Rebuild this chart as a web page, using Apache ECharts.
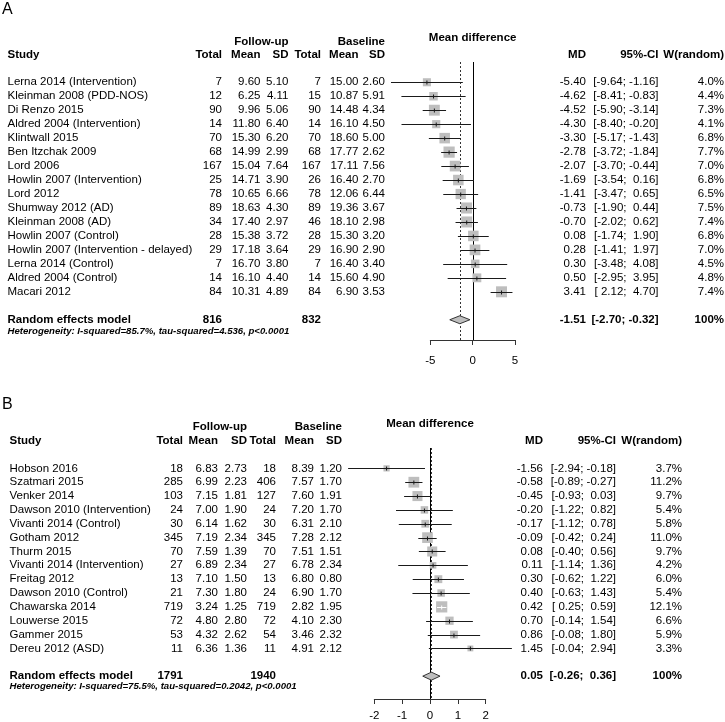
<!DOCTYPE html>
<html><head><meta charset="utf-8">
<script src="https://cdn.jsdelivr.net/npm/echarts@6/dist/echarts.min.js"></script>
<style>html,body{margin:0;padding:0;background:#fff}#c{width:725px;height:722px}</style>
</head><body><div id="c"></div>
<script>
// ================= Panel A data =================
const studiesA = ['Lerna 2014 (Intervention)','Kleinman 2008 (PDD-NOS)','Di Renzo 2015','Aldred 2004 (Intervention)','Klintwall 2015','Ben Itzchak 2009','Lord 2006','Howlin 2007 (Intervention)','Lord 2012','Shumway 2012 (AD)','Kleinman 2008 (AD)','Howlin 2007 (Control)','Howlin 2007 (Intervention - delayed)','Lerna 2014 (Control)','Aldred 2004 (Control)','Macari 2012'];
const fuTotalA = [7,12,90,14,70,68,167,25,78,89,34,28,29,7,14,84];
const fuMeanA  = [9.60,6.25,9.96,11.80,15.30,14.99,15.04,14.71,10.65,18.63,17.40,15.38,17.18,16.70,16.10,10.31];
const fuSdA    = [5.10,4.11,5.06,6.40,6.20,2.99,7.64,3.90,6.66,4.30,2.97,3.72,3.64,3.80,4.40,4.89];
const blTotalA = [7,15,90,14,70,68,167,26,78,89,46,28,29,7,14,84];
const blMeanA  = [15.00,10.87,14.48,16.10,18.60,17.77,17.11,16.40,12.06,19.36,18.10,15.30,16.90,16.40,15.60,6.90];
const blSdA    = [2.60,5.91,4.34,4.50,5.00,2.62,7.56,2.70,6.44,3.67,2.98,3.20,2.90,3.40,4.90,3.53];
const mdA      = [-5.40,-4.62,-4.52,-4.30,-3.30,-2.78,-2.07,-1.69,-1.41,-0.73,-0.70,0.08,0.28,0.30,0.50,3.41];
const loA      = [-9.64,-8.41,-5.90,-8.40,-5.17,-3.72,-3.70,-3.54,-3.47,-1.90,-2.02,-1.74,-1.41,-3.48,-2.95,2.12];
const hiA      = [-1.16,-0.83,-3.14,-0.20,-1.43,-1.84,-0.44,0.16,0.65,0.44,0.62,1.90,1.97,4.08,3.95,4.70];
const wA       = [4.0,4.4,7.3,4.1,6.8,7.7,7.0,6.8,6.5,7.5,7.4,6.8,7.0,4.5,4.8,7.4];
const sumTotalsA = [816, 832];
const sumEffA    = [-1.51, -2.70, -0.32];
const hetA = 'Heterogeneity: I-squared=85.7%, tau-squared=4.536, p<0.0001';
const ticksA = [-5, 0, 5];

// ================= Panel B data =================
const studiesB = ['Hobson 2016','Szatmari 2015','Venker 2014','Dawson 2010 (Intervention)','Vivanti 2014 (Control)','Gotham 2012','Thurm 2015','Vivanti 2014 (Intervention)','Freitag 2012','Dawson 2010 (Control)','Chawarska 2014','Louwerse 2015','Gammer 2015','Dereu 2012 (ASD)'];
const fuTotalB = [18,285,103,24,30,345,70,27,13,21,719,72,53,11];
const fuMeanB  = [6.83,6.99,7.15,7.00,6.14,7.19,7.59,6.89,7.10,7.30,3.24,4.80,4.32,6.36];
const fuSdB    = [2.73,2.23,1.81,1.90,1.62,2.34,1.39,2.34,1.50,1.80,1.25,2.80,2.62,1.36];
const blTotalB = [18,406,127,24,30,345,70,27,13,24,719,72,54,11];
const blMeanB  = [8.39,7.57,7.60,7.20,6.31,7.28,7.51,6.78,6.80,6.90,2.82,4.10,3.46,4.91];
const blSdB    = [1.20,1.70,1.91,1.70,2.10,2.12,1.51,2.34,0.80,1.70,1.95,2.30,2.32,2.12];
const mdB      = [-1.56,-0.58,-0.45,-0.20,-0.17,-0.09,0.08,0.11,0.30,0.40,0.42,0.70,0.86,1.45];
const loB      = [-2.94,-0.89,-0.93,-1.22,-1.12,-0.42,-0.40,-1.14,-0.62,-0.63,0.25,-0.14,-0.08,-0.04];
const hiB      = [-0.18,-0.27,0.03,0.82,0.78,0.24,0.56,1.36,1.22,1.43,0.59,1.54,1.80,2.94];
const wB       = [3.7,11.2,9.7,5.4,5.8,11.0,9.7,4.2,6.0,5.4,12.1,6.6,5.9,3.3];
const sumTotalsB = [1791, 1940];
const sumEffB    = [0.05, -0.26, 0.36];
const hetB = 'Heterogeneity: I-squared=75.5%, tau-squared=0.2042, p<0.0001';
const ticksB = [-2, -1, 0, 1, 2];

// ================= Layout / style =================
const FAM = '"Liberation Sans", Arial, Helvetica, sans-serif';
const FS = 11.5;
const panels = [
  { label:'A', studies:studiesA, fuTotal:fuTotalA, fuMean:fuMeanA, fuSd:fuSdA, blTotal:blTotalA, blMean:blMeanA, blSd:blSdA,
    md:mdA, lo:loA, hi:hiA, w:wA, sumTotals:sumTotalsA, sumEff:sumEffA, het:hetA, ticks:ticksA,
    grid:{left:430.3, width:84.7, top:62, height:278}, ymin:-1.45, ymax:18.45, labelMargin:15,
    cols:{label:2, study:7.5, t1:222, m1:260.5, s1:288.5, t2:321, m2:358.5, s2:385, md:586, ci:658.5, w:724},
    rows:{label:-5.23, title:-3.15, group:-2.86, head:-1.95, sum:17, het:17.85} },
  { label:'B', studies:studiesB, fuTotal:fuTotalB, fuMean:fuMeanB, fuSd:fuSdB, blTotal:blTotalB, blMean:blMeanB, blSd:blSdB,
    md:mdB, lo:loB, hi:hiB, w:wB, sumTotals:sumTotalsB, sumEff:sumEffB, het:hetB, ticks:ticksB,
    grid:{left:374.3, width:111.4, top:448, height:251}, ymin:-1.47, ymax:16.65, labelMargin:11,
    cols:{label:2, study:9.5, t1:183, m1:218, s1:247, t2:276, m2:314, s2:342, md:543, ci:616, w:682},
    rows:{label:-4.57, title:-3.25, group:-3.0, head:-1.99, sum:15, het:15.77} }
];
const BOXMAX = 11.2;

function padNum(v){ const s = v.toFixed(2); return v < 0 ? s : ' ' + s; }
function ciStr(lo, hi){ return '[' + padNum(lo) + '; ' + padNum(hi) + ']'; }

const grids = [], xAxes = [], yAxes = [], series = [];

panels.forEach((p, pi) => {
  const gF = grids.length;
  grids.push({left:p.grid.left, width:p.grid.width, top:p.grid.top, height:p.grid.height, containLabel:false, outerBoundsMode:'none'});
  const gT = grids.length;
  grids.push({left:0, width:725, top:p.grid.top, height:p.grid.height, containLabel:false, outerBoundsMode:'none'});
  const tmin = p.ticks[0], tmax = p.ticks[p.ticks.length-1];
  const xF = xAxes.length;
  xAxes.push({type:'value', gridIndex:gF, min:tmin, max:tmax, interval:p.ticks[1]-p.ticks[0], position:'bottom',
    axisLine:{show:true, onZero:false, lineStyle:{color:'#333', width:1}},
    axisTick:{show:true, length:5, lineStyle:{color:'#333', width:1}},
    axisLabel:{fontSize:FS, color:'#000', fontFamily:FAM, margin:p.labelMargin},
    splitLine:{show:false}});
  const xT = xAxes.length;
  xAxes.push({type:'value', gridIndex:gT, min:0, max:725, show:false});
  const yF = yAxes.length;
  yAxes.push({type:'value', gridIndex:gF, min:p.ymin, max:p.ymax, inverse:true, show:false});
  const yT = yAxes.length;
  yAxes.push({type:'value', gridIndex:gT, min:p.ymin, max:p.ymax, inverse:true, show:false});

  const n = p.md.length;
  const wmax = Math.max(...p.w);

  // reference lines: zero (solid) and random-effects estimate (dashed)
  series.push({type:'custom', xAxisIndex:xF, yAxisIndex:yF, silent:true, clip:false, z:1,
    data:[[0, 0], [p.sumEff[0], 1]],
    renderItem:(params, api) => {
      const x = api.value(0);
      const a = api.coord([x, p.ymin]), b = api.coord([x, p.ymax]);
      const xx = Math.round(a[0]) + 0.5;
      return {type:'line', shape:{x1:xx, y1:a[1], x2:xx, y2:b[1]},
        style: params.dataIndex === 0 ? {stroke:'#000', lineWidth:1} : {stroke:'#333', lineWidth:1, lineDash:[2,2]}};
    }});

  // study boxes + CIs
  series.push({type:'custom', xAxisIndex:xF, yAxisIndex:yF, silent:true, clip:false, z:3,
    data:p.md.map((v, i) => [v, i]),
    renderItem:(params, api) => {
      const i = params.dataIndex;
      const c = api.coord([p.md[i], i]);
      const xl = api.coord([p.lo[i], i])[0];
      const xh = api.coord([p.hi[i], i])[0];
      const s = BOXMAX * Math.sqrt(p.w[i] / wmax);
      const y = Math.round(c[1]) + 0.5;
      const inside = xl >= c[0] - s/2 && xh <= c[0] + s/2;
      const col = inside ? '#fff' : '#1a1a1a';
      return {type:'group', children:[
        {type:'rect', shape:{x:c[0]-s/2, y:c[1]-s/2, width:s, height:s}, style:{fill:'#bebebe'}},
        {type:'line', shape:{x1:xl, y1:y, x2:xh, y2:y}, style:{stroke:col, lineWidth:1}},
        {type:'line', shape:{x1:c[0], y1:y-2, x2:c[0], y2:y+2}, style:{stroke:col, lineWidth:1}}
      ]};
    }});

  // summary diamond
  series.push({type:'custom', xAxisIndex:xF, yAxisIndex:yF, silent:true, clip:false, z:3,
    data:[[p.sumEff[0], p.rows.sum]],
    renderItem:(params, api) => {
      const c = api.coord([p.sumEff[0], p.rows.sum]);
      const l = api.coord([p.sumEff[1], p.rows.sum])[0];
      const r = api.coord([p.sumEff[2], p.rows.sum])[0];
      const h = 4;
      return {type:'polygon', shape:{points:[[l,c[1]],[c[0],c[1]-h],[r,c[1]],[c[0],c[1]+h]]},
        style:{fill:'#bebebe', stroke:'#333', lineWidth:1}};
    }});

  // table text
  const C = p.cols, R = p.rows;
  const texts = [];
  const T = (x, row, text, align, font) => texts.push({x, row, text, align, font});
  const fN = FS + 'px ' + FAM, fB = 'bold ' + FS + 'px ' + FAM;
  T(C.label, R.label, p.label, 'left', '16px ' + FAM);
  T(p.grid.left + p.grid.width/2, R.title, 'Mean difference', 'center', fB);
  T(C.s1, R.group, 'Follow-up', 'right', fB);
  T(C.s2, R.group, 'Baseline', 'right', fB);
  T(C.study, R.head, 'Study', 'left', fB);
  [['t1','Total'],['m1','Mean'],['s1','SD'],['t2','Total'],['m2','Mean'],['s2','SD'],['md','MD'],['ci','95%-CI'],['w','W(random)']]
    .forEach(([k, t]) => T(C[k], R.head, t, 'right', fB));
  for (let i = 0; i < n; i++) {
    T(C.study, i, p.studies[i], 'left', fN);
    T(C.t1, i, String(p.fuTotal[i]), 'right', fN);
    T(C.m1, i, p.fuMean[i].toFixed(2), 'right', fN);
    T(C.s1, i, p.fuSd[i].toFixed(2), 'right', fN);
    T(C.t2, i, String(p.blTotal[i]), 'right', fN);
    T(C.m2, i, p.blMean[i].toFixed(2), 'right', fN);
    T(C.s2, i, p.blSd[i].toFixed(2), 'right', fN);
    T(C.md, i, p.md[i].toFixed(2), 'right', fN);
    T(C.ci, i, ciStr(p.lo[i], p.hi[i]), 'right', fN);
    T(C.w, i, p.w[i].toFixed(1) + '%', 'right', fN);
  }
  T(C.study, R.sum, 'Random effects model', 'left', fB);
  T(C.t1, R.sum, String(p.sumTotals[0]), 'right', fB);
  T(C.t2, R.sum, String(p.sumTotals[1]), 'right', fB);
  T(C.md, R.sum, p.sumEff[0].toFixed(2), 'right', fB);
  T(C.ci, R.sum, ciStr(p.sumEff[1], p.sumEff[2]), 'right', fB);
  T(C.w, R.sum, '100%', 'right', fB);
  T(C.study, R.het, p.het, 'left', 'italic bold 9.6px ' + FAM);

  series.push({type:'custom', xAxisIndex:xT, yAxisIndex:yT, silent:true, clip:false, z:5,
    data:texts.map(t => [t.x, t.row]),
    renderItem:(params, api) => {
      const t = texts[params.dataIndex];
      const c = api.coord([t.x, t.row]);
      return {type:'text', x:c[0], y:c[1], style:{text:t.text, fill:'#000', font:t.font, align:t.align, verticalAlign:'middle'}};
    }});
});

const chart = echarts.init(document.getElementById('c'), null, {renderer:'canvas'});
chart.setOption({animation:false, backgroundColor:'#fff', grid:grids, xAxis:xAxes, yAxis:yAxes, series:series});
</script>
</body></html>
